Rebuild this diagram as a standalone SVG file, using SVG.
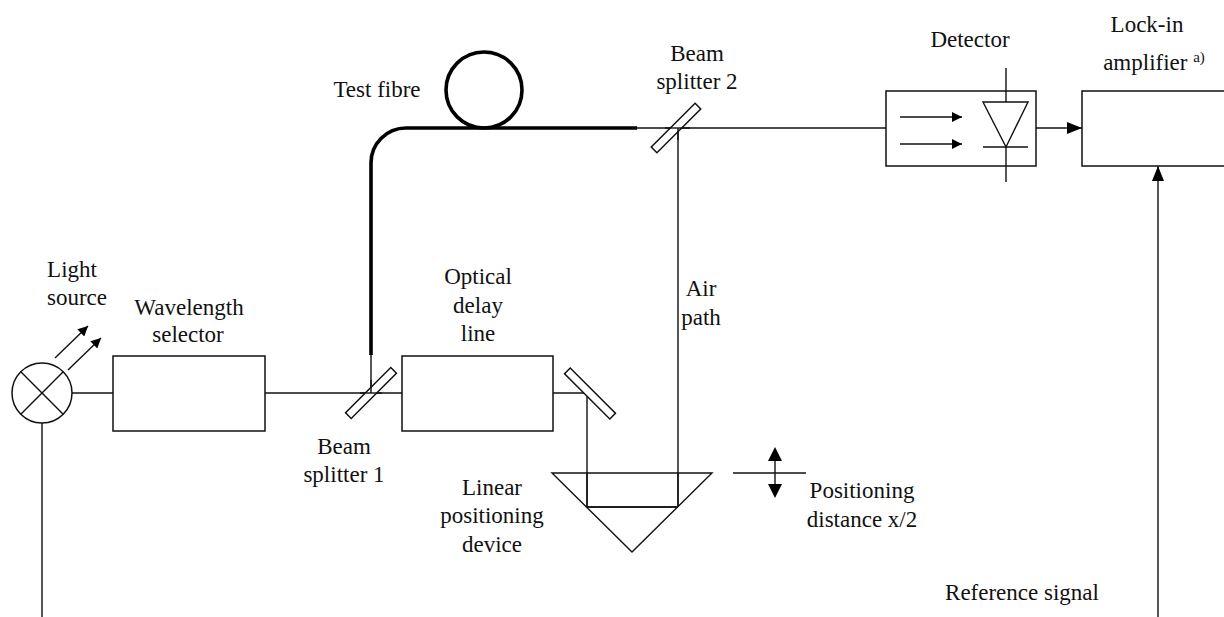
<svg xmlns="http://www.w3.org/2000/svg" width="1224" height="617" viewBox="0 0 1224 617">
<defs>
<style>
.t{font-family:"Liberation Serif","Times New Roman",serif;font-size:23px;fill:#111;text-anchor:middle}
.sup{font-size:15px}
.ln{stroke:#111;stroke-width:1.4;fill:none}
.bx{stroke:#111;stroke-width:1.5;fill:#fff}
.fib{stroke:#000;stroke-width:3.6;fill:none}
.ah{fill:#000}
</style>
<marker id="arr" viewBox="0 0 10 10" refX="10" refY="5" markerWidth="10" markerHeight="10" markerUnits="userSpaceOnUse" orient="auto">
<path d="M0,0 L10,5 L0,10 Z" fill="#000"/>
</marker>
<marker id="arrB" viewBox="0 0 15 12" refX="15" refY="6" markerWidth="15" markerHeight="12" markerUnits="userSpaceOnUse" orient="auto">
<path d="M0,0 L15,6 L0,12 Z" fill="#000"/>
</marker>
</defs>
<rect width="1224" height="617" fill="#fff"/>

<g id="connectors">
<line class="ln" x1="42" y1="423" x2="42" y2="617"/>
<line class="ln" x1="72" y1="393" x2="113" y2="393"/>
<line class="ln" x1="265" y1="393" x2="402" y2="393"/>
<line class="ln" x1="371" y1="355" x2="371" y2="393"/>
<line class="ln" x1="553" y1="393" x2="587" y2="393"/>
<line class="ln" x1="587" y1="393" x2="587" y2="507"/>
<line class="ln" x1="587" y1="507" x2="678" y2="507"/>
<line class="ln" x1="678" y1="128" x2="678" y2="507"/>
<line class="ln" x1="637" y1="128" x2="886" y2="128"/>
<line class="ln" x1="1036" y1="128" x2="1082" y2="128" marker-end="url(#arrB)"/>
<line class="ln" x1="1158" y1="617" x2="1158" y2="166" marker-end="url(#arrB)"/>
<path class="fib" d="M371,355 L371,163 A35,35 0 0 1 406,128 L637,128"/>
</g>

<g id="light-source">
<circle class="bx" cx="42" cy="393" r="30"/>
<line class="ln" x1="20.8" y1="371.8" x2="63.2" y2="414.2"/>
<line class="ln" x1="63.2" y1="371.8" x2="20.8" y2="414.2"/>
<line class="ln" x1="55" y1="358" x2="88" y2="326" marker-end="url(#arr)"/>
<line class="ln" x1="68" y1="370" x2="101" y2="338" marker-end="url(#arr)"/>
<text class="t" x="72" y="277">Light</text>
<text class="t" x="77" y="305">source</text>
</g>

<g id="wavelength-selector">
<rect class="bx" x="113" y="356" width="152" height="75"/>
<text class="t" x="189" y="315">Wavelength</text>
<text class="t" x="188" y="342">selector</text>
</g>

<g id="beam-splitter-1">
<rect class="bx" x="339" y="389" width="64" height="8" transform="rotate(-45 371 393)"/>
<line class="ln" x1="371" y1="380" x2="371" y2="393"/>
<line class="ln" x1="360" y1="393" x2="382" y2="393"/>
<text class="t" x="344" y="454">Beam</text>
<text class="t" x="344" y="482">splitter 1</text>
</g>

<g id="optical-delay-line">
<rect class="bx" x="402" y="356" width="151" height="75"/>
<text class="t" x="478" y="284">Optical</text>
<text class="t" x="478" y="313">delay</text>
<text class="t" x="478" y="341">line</text>
</g>

<g id="mirror">
<rect class="bx" x="558" y="389.5" width="64" height="8" transform="rotate(45 590 393.5)"/>
</g>

<g id="linear-positioning-device">
<path class="ln" d="M552,473 L712,473 L632,552 Z"/>
<line class="ln" x1="587" y1="473" x2="587" y2="507"/>
<line class="ln" x1="678" y1="473" x2="678" y2="507"/>
<line class="ln" x1="587" y1="507" x2="678" y2="507"/>
<text class="t" x="492" y="495">Linear</text>
<text class="t" x="492" y="523">positioning</text>
<text class="t" x="492" y="552">device</text>
</g>

<g id="positioning-distance">
<line class="ln" x1="733" y1="473" x2="806" y2="473"/>
<line class="ln" x1="775" y1="461" x2="775" y2="484"/>
<path class="ah" d="M775,447 L782,461 L768,461 Z"/>
<path class="ah" d="M775,498 L782,484 L768,484 Z"/>
<text class="t" x="862" y="498">Positioning</text>
<text class="t" x="862" y="527">distance x/2</text>
</g>

<g id="test-fibre">
<circle class="fib" cx="484" cy="90" r="38"/>
<text class="t" x="377" y="97">Test fibre</text>
</g>

<g id="beam-splitter-2">
<rect class="bx" x="645" y="124" width="62" height="8" transform="rotate(-45 676 128)"/>
<line class="ln" x1="665" y1="128" x2="690" y2="128"/>
<line class="ln" x1="678" y1="128" x2="678" y2="140"/>
<text class="t" x="697" y="61">Beam</text>
<text class="t" x="697" y="89">splitter 2</text>
</g>

<g id="air-path">
<text class="t" x="701" y="296">Air</text>
<text class="t" x="701" y="325">path</text>
</g>

<g id="detector">
<rect class="bx" x="886" y="91" width="150" height="75"/>
<line class="ln" x1="900" y1="117" x2="962" y2="117" marker-end="url(#arr)"/>
<line class="ln" x1="900" y1="144" x2="962" y2="144" marker-end="url(#arr)"/>
<path class="ln" d="M983,102 L1028,102 L1006,147 Z"/>
<line class="ln" x1="983" y1="147" x2="1028" y2="147"/>
<line class="ln" x1="1006" y1="68" x2="1006" y2="102"/>
<line class="ln" x1="1006" y1="147" x2="1006" y2="182"/>
<text class="t" x="970" y="47">Detector</text>
</g>

<g id="lock-in-amplifier">
<rect class="bx" x="1082" y="91" width="160" height="75"/>
<text class="t" x="1147" y="32">Lock-in</text>
<text class="t" x="1154" y="70">amplifier <tspan class="sup" dy="-8">a)</tspan></text>
</g>

<g id="reference-signal">
<text class="t" x="1022" y="600">Reference signal</text>
</g>
</svg>
